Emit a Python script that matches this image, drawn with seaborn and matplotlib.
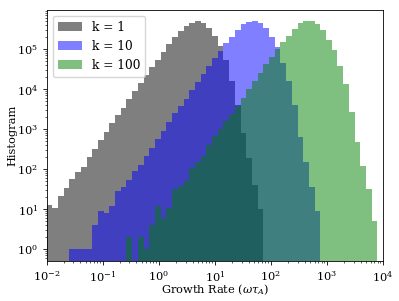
import matplotlib
matplotlib.use("Agg")
import matplotlib.pyplot as plt
import numpy as np
import pandas as pd
import seaborn as sns

# shared log10 binning of the growth rate
log_lo, log_hi, n_bins = -2.0, 4.0, 59

# counts per bin
counts_k1 = [13, 11, 21, 33, 56, 83, 116, 200, 310, 530,
             850, 1390, 2200, 3400, 5500, 8800, 13900, 22000, 35000, 53000,
             84000, 132000, 195000, 280000, 370000, 455000, 495000, 435000, 330000, 205000,
             122000, 54000, 15500, 4000, 820, 187, 40, 10, 0, 0,
             0, 0, 0, 0, 0, 0, 0, 0, 0, 0,
             0, 0, 0, 0, 0, 0, 0, 0, 0]
counts_k10 = [0, 0, 0, 0, 1, 1, 1, 1, 4, 9,
              8, 12, 29, 35, 54, 90, 130, 210, 347, 570,
              900, 1480, 2500, 3700, 5700, 9600, 14800, 23500, 37000, 59000,
              89000, 144000, 200000, 300000, 410000, 470000, 500000, 450000, 330000, 200000,
              110000, 45000, 15500, 4000, 620, 155, 35, 9, 0, 0,
              0, 0, 0, 0, 0, 0, 0, 0, 0]
counts_k100 = [0, 0, 0, 0, 0, 0, 0, 0, 0, 0,
               0, 0, 0, 0, 2, 0, 2, 1, 4, 12,
               6, 11, 32, 37, 50, 106, 148, 218, 400, 680,
               1020, 1570, 2400, 3750, 6000, 9800, 15700, 25500, 41000, 63000,
               98000, 150000, 210000, 320000, 440000, 490000, 500000, 410000, 295000, 170000,
               96000, 37000, 13200, 2650, 490, 117, 32, 5, 0]

labels = ["k = 1", "k = 10", "k = 100"]
colors = ["k", "b", "g"]

plt.rcParams["font.family"] = "DejaVu Serif"
plt.rcParams["mathtext.fontset"] = "dejavuserif"
plt.rcParams["font.size"] = 8.2
plt.rcParams["axes.linewidth"] = 0.6
plt.rcParams["xtick.major.size"] = 2.6
plt.rcParams["ytick.major.size"] = 2.6
plt.rcParams["xtick.minor.size"] = 1.5
plt.rcParams["ytick.minor.size"] = 1.5
plt.rcParams["xtick.major.width"] = 0.6
plt.rcParams["ytick.major.width"] = 0.6
plt.rcParams["xtick.minor.width"] = 0.45
plt.rcParams["ytick.minor.width"] = 0.45

log_edges = np.linspace(log_lo, log_hi, n_bins + 1)
centers = 10 ** ((log_edges[:-1] + log_edges[1:]) / 2)

fig = plt.figure(figsize=(3.99, 3.01), dpi=100)
ax = fig.add_axes([0.117, 0.134, 0.843, 0.834])

for counts, label, color in zip([counts_k1, counts_k10, counts_k100], labels, colors):
    df = pd.DataFrame({"rate": centers, "n": counts})
    df = df[df["n"] > 0]
    sns.histplot(data=df, x="rate", weights="n", bins=n_bins, binrange=(log_lo, log_hi),
                 log_scale=True, color=color, alpha=0.5, linewidth=0, label=label, ax=ax)

ax.set_yscale("log")
ax.set_xlim(1e-2, 1e4)
ax.set_ylim(0.52, 9.6e5)
ax.set_xlabel(r"Growth Rate ($\omega\tau_A$)")
ax.set_ylabel("Histogram")
ax.xaxis.set_label_coords(0.5, -0.086)
ax.yaxis.set_label_coords(-0.0865, 0.5)
ax.legend(loc="upper left", fontsize=8.8)

fig.savefig("out.png", dpi=100)
